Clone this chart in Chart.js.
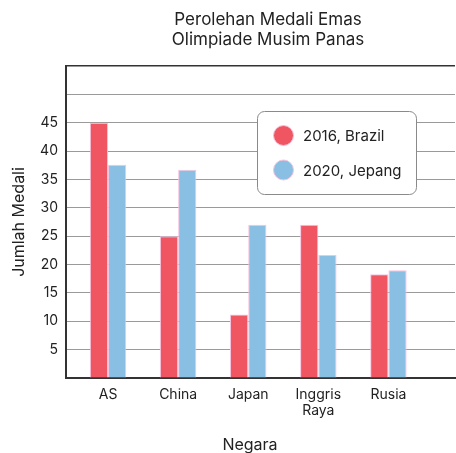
<!DOCTYPE html>
<html>
<head>
<meta charset="utf-8">
<script src="https://cdn.jsdelivr.net/npm/chart.js@4"></script>
<style>
  html, body { margin: 0; padding: 0; background: #fff; overflow: hidden; }
  #wrap { position: relative; width: 456px; height: 453px; }
</style>
</head>
<body>
<div id="wrap"><canvas id="grafik"></canvas></div>
<script>
var negara = ["AS", "China", "Japan", ["Inggris", "Raya"], "Rusia"];
var medali2016 = [45, 25, 11.2, 27, 18.3];
var medali2020 = [37.6, 36.7, 27, 21.7, 19];
var labelSeri = ["2016, Brazil", "2020, Jepang"];
var judul = ["Perolehan Medali Emas", "Olimpiade Musim Panas"];
var judulX = "Negara";

var FONT = "Inter, 'Noto Sans', sans-serif";
var merah = "#f05661";
var biru = "#88bfe3";
var pink = "#f6c3dd";

function titik(arr) {
    return arr.map(function (v, i) { return { x: i, y: v }; });
}

// judul dua baris + judul sumbu x, digambar manual supaya posisinya pas
var pluginJudul = {
    id: "judulManual",
    afterDraw: function (chart) {
        var c = chart.ctx;
        c.save();
        c.font = "17px " + FONT;
        c.fillStyle = "#222";
        c.textAlign = "center";
        c.textBaseline = "alphabetic";
        c.fillText(judul[0], 268, 25);
        c.fillText(judul[1], 268, 45);
        c.font = "16px " + FONT;
        c.fillText(judulX, 250, 450);
        c.restore();
    }
};

// legenda di dalam area grafik
var pluginLegenda = {
    id: "legendaDalam",
    afterDatasetsDraw: function (chart) {
        var c = chart.ctx;
        var x = 257.5, y = 111.5, w = 159, h = 83, r = 7;
        c.save();
        c.beginPath();
        c.roundRect(x, y, w, h, r);
        c.fillStyle = "#fff";
        c.fill();
        c.lineWidth = 1;
        c.strokeStyle = "#8a8a8a";
        c.stroke();
        chart.data.datasets.forEach(function (ds, i) {
            var cy = 135.5 + i * 34.5;
            c.beginPath();
            c.arc(283.5, cy, 10, 0, Math.PI * 2);
            c.fillStyle = ds.backgroundColor;
            c.fill();
            c.strokeStyle = pink;
            c.lineWidth = 1;
            c.stroke();
            c.fillStyle = "#222";
            c.font = "15px " + FONT;
            c.textBaseline = "middle";
            c.textAlign = "left";
            c.fillText(ds.label, 303, cy + 1);
        });
        c.restore();
    }
};

new Chart(document.getElementById("grafik"), {
    type: "bar",
    data: {
        datasets: [{
            label: labelSeri[0],
            data: titik(medali2016),
            backgroundColor: merah,
            borderColor: pink,
            borderWidth: 1
        }, {
            label: labelSeri[1],
            data: titik(medali2020),
            backgroundColor: biru,
            borderColor: pink,
            borderWidth: 1
        }]
    },
    options: {
        responsive: true,
        maintainAspectRatio: false,
        animation: false,
        layout: { padding: { top: 66, right: 1, left: 0, bottom: 0 } },
        datasets: { bar: { categoryPercentage: 0.52, barPercentage: 1.0 } },
        plugins: {
            legend: { display: false },
            tooltip: { enabled: false }
        },
        scales: {
            x: {
                type: "linear",
                offset: false,
                min: -0.6,
                max: 4.95,
                afterBuildTicks: function (s) {
                    s.ticks = negara.map(function (n, i) { return { value: i }; });
                },
                afterFit: function (s) {
                    s.height = 75;
                    s.paddingLeft = 0;
                    s.paddingRight = 0;
                },
                ticks: {
                    autoSkip: false,
                    maxRotation: 0,
                    padding: 8,
                    color: "#222",
                    font: { family: FONT, size: 14 },
                    callback: function (v) { return negara[v]; }
                },
                grid: { display: false, drawTicks: false },
                border: { display: true, color: "#333", width: 2 }
            },
            y: {
                min: 0,
                max: 55,
                afterFit: function (s) { s.width = 66; },
                ticks: {
                    stepSize: 5,
                    padding: 8,
                    color: "#222",
                    font: { family: FONT, size: 14 },
                    callback: function (v) { return (v > 0 && v <= 45) ? v : ""; }
                },
                grid: {
                    drawTicks: false,
                    color: function (ctx) { return ctx.tick && ctx.tick.value === 55 ? "#333" : "#9a9a9a"; },
                    lineWidth: function (ctx) { return ctx.tick && ctx.tick.value === 55 ? 1.5 : 1; }
                },
                border: { display: true, color: "#333", width: 2 },
                title: {
                    display: true,
                    text: "Jumlah Medali",
                    color: "#222",
                    font: { family: FONT, size: 16 },
                    padding: { top: 10, bottom: 0 }
                }
            }
        }
    },
    plugins: [pluginJudul, pluginLegenda]
});
</script>
</body>
</html>
